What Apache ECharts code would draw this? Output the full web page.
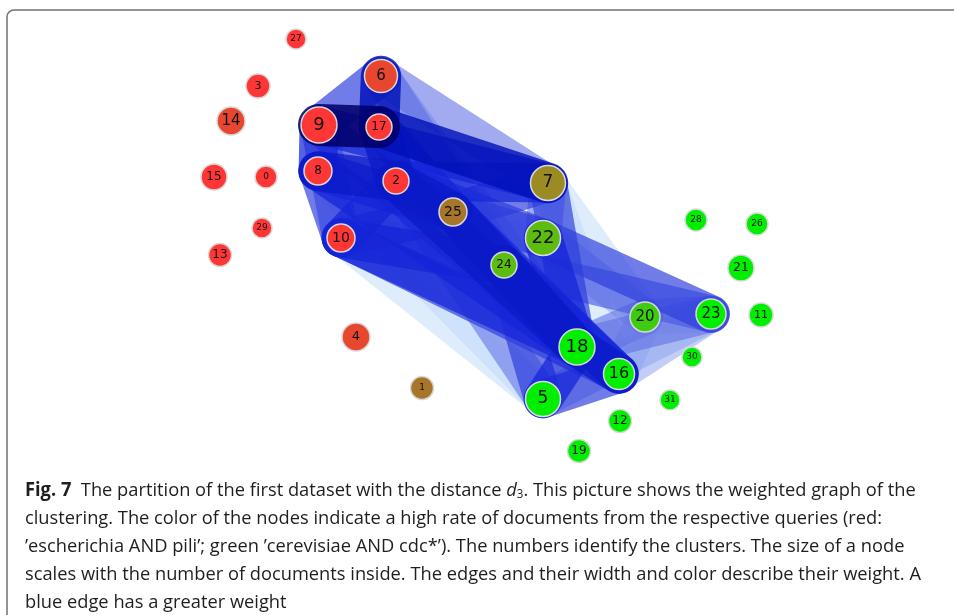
<!DOCTYPE html>
<html>
<head>
<meta charset="utf-8">
<script src="https://cdn.jsdelivr.net/npm/echarts@6/dist/echarts.min.js"></script>
<style>html,body{margin:0;padding:0;background:#fff;}#c{width:954px;height:615px;}</style>
</head>
<body>
<div id="c"></div>
<script>
// ---- data ----
const nodeIds   = ['27','3','14','9','17','6','15','0','8','2','29','10','13','4','1','25','7','22','24','28','26','21','20','23','11','18','30','16','31','5','12','19'];
const nodeX     = [296,258,231,319,379,381,214,266,318,396,262,341,220,356,422,453,548,543,504,696,757,741,645,711,761,577,692,619,670,543,620,579];
const nodeY     = [39,86,121,125,127,76,177,177,171,181,228,238,255,337,388,212,183,238,265,220,224,268,317,314,315,347,357,374,400,399,421,451];
const nodeDocs  = [20,24,28,36,26,33,26,22,28,26,20,28,23,28,23,28,35,35,26,22,22,26,30,30,24,36,20,31,20,35,23,23];
const nodeGroup = ['r','r','o','r','r','o','r','r','r','r','r','r','r','o','b1','b1','b2','g2','g2','g','g','g','g3','g','g','g','g','g','g','g','g','g'];
const labelSize = [9,11,15,18,12,15,12,9,12,12,9,14,12,13,9,14,17,18,12,9,9,12,15,15,11,18,9,16,9,17,12,12];
// edges: [source, target, weight]
const edgeList = [
  ['9','17',10],['9','6',5],['6','17',8],['9','8',6],['8','2',7],['17','2',7],['8','10',5],['9','10',4],
  ['10','2',6],['6','7',3],['17','7',8],['9','7',6],['2','7',6],['2','25',7],['17','25',6],['8','25',6],
  ['25','18',7],['2','18',7],['10','18',6],['8','18',6],['24','18',7],['25','24',6],['22','18',6],['7','18',5],
  ['18','16',7],['24','16',6],['25','16',6],['10','16',5],['18','5',6],['16','5',5],['24','5',5],['10','5',1],
  ['8','5',1],['2','5',3],['22','23',5],['24','23',4],['18','23',3],['16','23',2],['5','23',2],
  ['20','23',2],['18','20',3],['7','20',1],['22','20',2],['16','20',2],['10','22',1],['7','22',3],['10','24',6],
  ['9','18',5],['6','24',3],['6','18',2],['25','7',5],['25','22',5],['2','22',5],['7','16',1],['10','25',5]
];
const captionLines = [
  '{b|Fig. 7}  The partition of the first dataset with the distance {i|d}{s|3}. This picture shows the weighted graph of the',
  'clustering. The color of the nodes indicate a high rate of documents from the respective queries (red:',
  '’escherichia AND pili’; green ’cerevisiae AND cdc*’). The numbers identify the clusters. The size of a node',
  'scales with the number of documents inside. The edges and their width and color describe their weight. A',
  'blue edge has a greater weight'
];

// ---- styles ----
const groupColor = {r:'#ff3636', o:'#e8472f', b1:'#a8762a', b2:'#9c8a22', g2:'#5cbc10', g3:'#3ccc10', g:'#00ee00'};
const stops = [[1,'#bcd8f8'],[3,'#6070e6'],[6,'#1424d8'],[8,'#0010b8'],[10,'#000068']];
function hex(c){return [1,3,5].map(i=>parseInt(c.substr(i,2),16));}
function edgeColor(w){
  for (let k=1;k<stops.length;k++){
    if (w <= stops[k][0]){
      const t=(w-stops[k-1][0])/(stops[k][0]-stops[k-1][0]);
      const a=hex(stops[k-1][1]), b=hex(stops[k][1]);
      return 'rgb('+a.map((v,i)=>Math.round(v+(b[i]-v)*t)).join(',')+')';
    }
  }
  return stops[stops.length-1][1];
}

const nodes = nodeIds.map((id,i)=>({
  name:id, value:[nodeX[i], nodeY[i]], symbolSize:nodeDocs[i],
  itemStyle:{color:groupColor[nodeGroup[i]], borderColor:'#d8d8d8', borderWidth:1.5},
  label:{show:true, formatter:id, fontSize:labelSize[i], color:'#111', fontFamily:'DejaVu Sans'}
}));
// heavier edges drawn last (on top)
const links = edgeList.slice().sort((a,b)=>a[2]-b[2]).map(e=>({
  source:e[0], target:e[1],
  lineStyle:{width:34+e[2]*0.8, color:edgeColor(e[2]), opacity:Math.min(0.85, 0.45+e[2]*0.045), cap:'round', join:'round', curveness:0}
}));

// caption font compression to mimic condensed typeface
const FONT = 'Open Sans';
const FS = 19;
const cv = document.createElement('canvas').getContext('2d');
cv.font = FS + 'px "' + FONT + '"';
const sx = (882 - 25) / cv.measureText(captionLines[1]).width;

const chart = echarts.init(document.getElementById('c'), null, {renderer:'canvas'});
const graphics = [
  {type:'rect', shape:{x:7,y:10,width:1000,height:700,r:7}, style:{fill:'none', stroke:'#707070', lineWidth:1.5}, z:100}
];
captionLines.forEach((t,i)=>{
  graphics.push({type:'text', x:25, y:481+i*28, scaleX:sx, z:100,
    style:{text:t, fontFamily:FONT, fontSize:FS, fill:'#1e1e1e',
      rich:{b:{fontWeight:'bold', fontFamily:FONT, fontSize:FS, fill:'#1e1e1e'},
            i:{fontStyle:'italic', fontFamily:FONT, fontSize:FS, fill:'#1e1e1e'},
            s:{fontFamily:FONT, fontSize:12, fill:'#1e1e1e', padding:[8,0,0,0]}}}});
});

chart.setOption({
  animation:false,
  grid:{left:0, right:0, top:0, bottom:0},
  xAxis:{type:'value', min:0, max:954, show:false},
  yAxis:{type:'value', min:0, max:615, inverse:true, show:false},
  graphic:graphics,
  series:[{
    type:'graph', coordinateSystem:'cartesian2d', layout:'none',
    data:nodes, links:links, symbol:'circle',
    label:{show:true, position:'inside'},
    emphasis:{disabled:true}
  }]
});
</script>
</body>
</html>
